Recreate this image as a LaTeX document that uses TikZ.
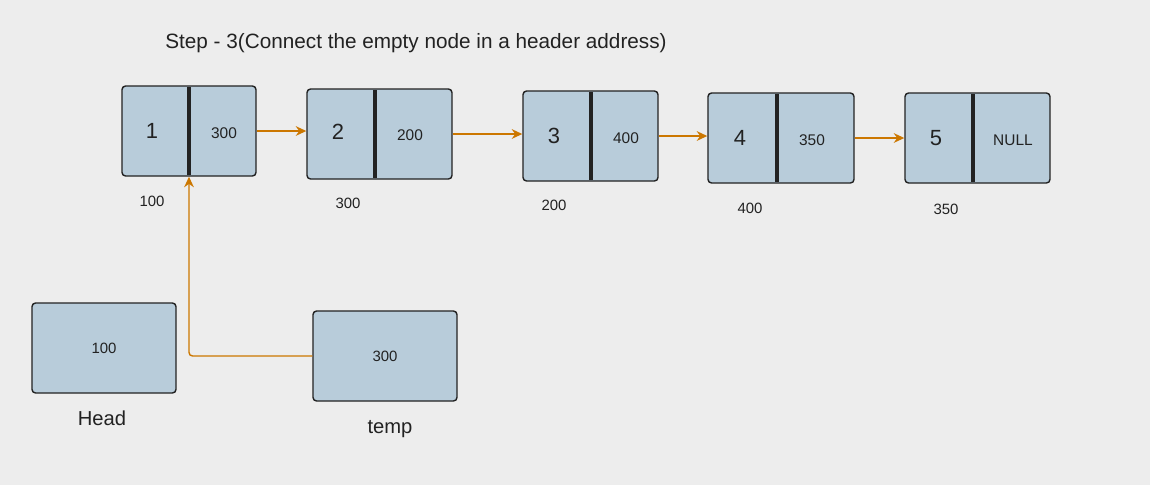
\documentclass[tikz,border=0pt]{standalone}
\usepackage{fontspec}
\setmainfont{Liberation Sans}
\usetikzlibrary{arrows.meta}
\definecolor{bgcol}{RGB}{237,237,237}
\definecolor{cellcol}{RGB}{184,204,218}
\definecolor{linkcol}{RGB}{204,119,0}
\definecolor{inkcol}{RGB}{34,34,34}
\tikzset{
  cell/.style={draw=inkcol, fill=cellcol, line width=0.8pt, rounded corners=2pt,
    minimum height=1.8cm, inner sep=0pt},
  divider/.style={draw=inkcol, line width=1.9pt},
  link/.style={draw=linkcol, line width=0.8pt, -{Stealth[length=6pt,width=5.5pt]}},
  datatxt/.style={text=inkcol, font=\fontsize{12.5}{14}\selectfont},
  ptrtxt/.style={text=inkcol, font=\fontsize{8.8}{10}\selectfont},
  addrtxt/.style={text=inkcol, font=\fontsize{8.5}{10}\selectfont},
  nametxt/.style={text=inkcol, font=\fontsize{11.5}{13}\selectfont}
}
\begin{document}
\begin{tikzpicture}[x=0.02cm,y=-0.02cm]
      \fill[bgcol] (0,0) rectangle (1150,485);
      \node[text=inkcol, font=\fontsize{11.8}{14}\selectfont] (title) at (416,43)
        {Step - 3(Connect the empty node in a header address)};

      \node[cell, minimum width=2.68cm] (n1) at (189,131) {};
      \draw[divider] (189,87) -- (189,175);
      \node[datatxt] (d1) at (152,131) {1};
      \node[ptrtxt] (p1) at (224,133) {300};
      \node[addrtxt] (a1) at (152,201) {100};

      \node[cell, minimum width=2.9cm] (n2) at (379.5,134) {};
      \draw[divider] (375,90) -- (375,178);
      \node[datatxt] (d2) at (338,132) {2};
      \node[ptrtxt] (p2) at (410,135) {200};
      \node[addrtxt] (a2) at (348,203) {300};

      \node[cell, minimum width=2.7cm] (n3) at (590.5,136) {};
      \draw[divider] (591,92) -- (591,180);
      \node[datatxt] (d3) at (554,136) {3};
      \node[ptrtxt] (p3) at (626,138) {400};
      \node[addrtxt] (a3) at (554,205) {200};

      \node[cell, minimum width=2.92cm] (n4) at (781,138) {};
      \draw[divider] (777,94) -- (777,182);
      \node[datatxt] (d4) at (740,138) {4};
      \node[ptrtxt] (p4) at (812,140) {350};
      \node[addrtxt] (a4) at (750,208) {400};

      \node[cell, minimum width=2.9cm] (n5) at (977.5,138) {};
      \draw[divider] (973,94) -- (973,182);
      \node[datatxt] (d5) at (936,138) {5};
      \node[ptrtxt] (p5) at (1013,140) {NULL};
      \node[addrtxt] (a5) at (946,209) {350};

      \draw[link] (n1.east) -- (n1.east -| n2.west);
      \draw[link] (n2.east) -- (n2.east -| n3.west);
      \draw[link] (n3.east) -- (n3.east -| n4.west);
      \draw[link] (n4.east) -- (n4.east -| n5.west);

      \node[cell, minimum width=2.88cm, ptrtxt, font=\fontsize{8.5}{10}\selectfont] (head) at (104,348) {100};
      \node[nametxt] (headname) at (102,418) {Head};

      \node[cell, minimum width=2.88cm, ptrtxt, font=\fontsize{8.5}{10}\selectfont] (temp) at (385,356) {300};
      \node[nametxt] (tempname) at (390,429) {temp};

      \draw[link, rounded corners=2pt] (temp.west) -| (n1.south);
\end{tikzpicture}
\end{document}
